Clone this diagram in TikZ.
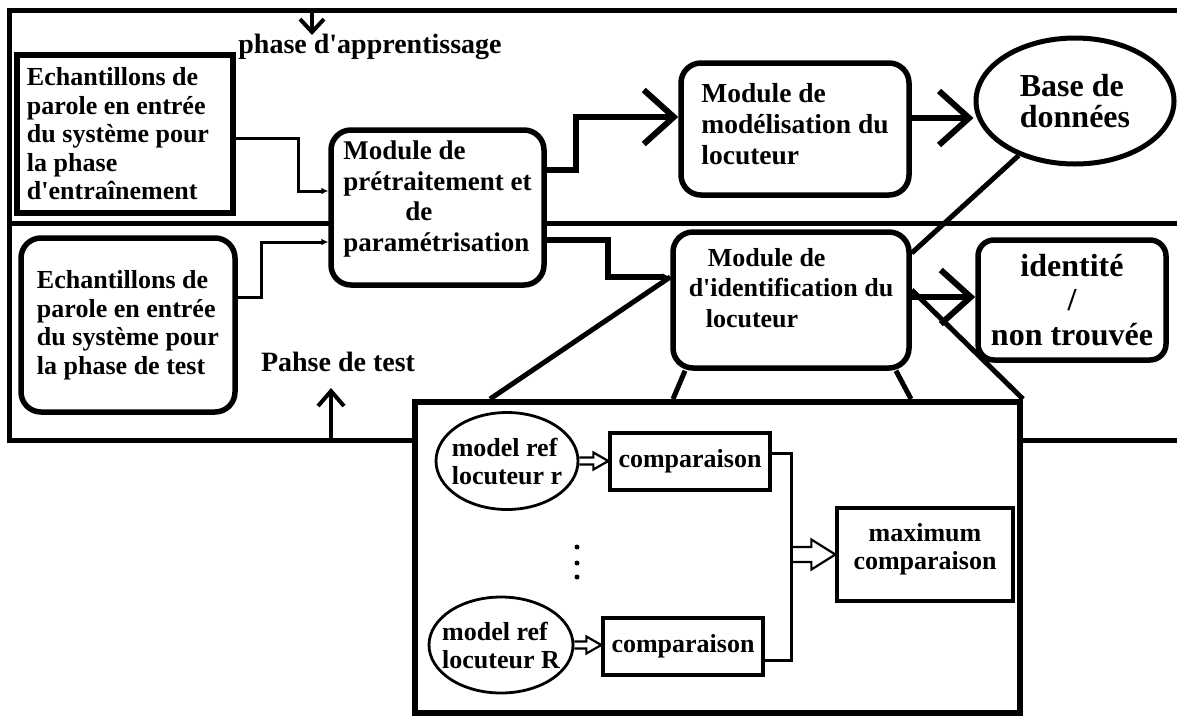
\documentclass[tikz,border=0pt]{standalone}
\usepackage{fontspec}
\setmainfont{Liberation Serif}[Ligatures=TeXOff]
\usetikzlibrary{arrows.meta,calc,shapes.geometric}
\newcommand\ftA{\fontsize{26pt}{28.5pt}\selectfont\bfseries}
\newcommand\ftB{\fontsize{27pt}{30.7pt}\selectfont\bfseries}
\newcommand\ftC{\fontsize{27.5pt}{31pt}\selectfont\bfseries}
\newcommand\ftD{\fontsize{32pt}{31pt}\selectfont\bfseries}
\newcommand\ftE{\fontsize{26pt}{30.5pt}\selectfont\bfseries}
\newcommand\ftF{\fontsize{32pt}{34.5pt}\selectfont\bfseries}
\newcommand\ftG{\fontsize{26pt}{28pt}\selectfont\bfseries}
\newcommand\ftH{\fontsize{28pt}{30pt}\selectfont\bfseries}
\newcommand\hollowarr[5]{\draw[line width=2.2pt, line join=miter] let \p1=(#1), \p2=(#2) in (\x1,\y1+#3) -- (\x2-#5,\y1+#3) -- (\x2-#5,\y1+#4) -- (\x2,\y1) -- (\x2-#5,\y1-#4) -- (\x2-#5,\y1-#3) -- (\x1,\y1-#3);}
\tikzset{
  frameline/.style={line width=5pt},
  sqbox/.style={draw, line width=6.5pt, fill=white, inner sep=0pt},
  rbox/.style={draw, line width=5.5pt, rounded corners=20pt, fill=white, inner sep=0pt},
  dbell/.style={draw, ellipse, line width=5pt, fill=white, inner sep=0pt},
  inell/.style={draw, ellipse, line width=2.8pt, fill=white, inner xsep=-8pt, inner ysep=-10pt},
  inbox/.style={draw, line width=3.3pt, fill=white, inner sep=0pt},
  thinconn/.style={line width=3pt, -{Latex[length=7pt,width=7pt]}},
  thickconn/.style={line width=6pt},
  chev/.style={-{Straight Barb[length=30pt,width=54pt]}},
  plain/.style={line width=5pt},
  lab/.style={inner sep=0pt, font=\ftH}
}
\begin{document}
\begin{tikzpicture}[x=1pt,y=-1pt]
\useasboundingbox (0,0) rectangle (1177,718);
% outer frame
\draw[frameline] (1190,10) -- (9,10) -- (9,440) -- (1190,440);
\draw[frameline] (9,223) -- (1190,223);
% main nodes
\node[sqbox, minimum width=216pt, minimum height=158pt, align=left, font=\ftA] (train) at (125,134)
  {\makebox[196pt][l]{Echantillons de}\\parole en entrée\\du système pour\\la phase\\d'entraînement};
\node[rbox, minimum width=214pt, minimum height=174pt, align=left, font=\ftA] (test) at (128,325)
  {Echantillons de\\parole en entrée\\du système pour\\la phase de test};
\node[rbox, minimum width=213pt, minimum height=155pt, align=left, font=\ftB] (prep) at (437.5,207.5)
  {Module de\\prétraitement et\\\hspace*{62pt}de\\paramétrisation\\[-8pt]\mbox{}};
\node[rbox, minimum width=228pt, minimum height=132pt, align=left, font=\ftC] (model) at (795,129)
  {Module de\\modélisation du\\locuteur\\[-20pt]\mbox{}};
\node[dbell, minimum width=198pt, minimum height=126pt, align=left, font=\ftD] (base) at (1075,101)
  {Base de\\données};
\node[rbox, minimum width=236pt, minimum height=136pt, align=left, font=\ftE] (ident) at (791,300)
  {\hspace*{19pt}Module de\\d'identification du\\\hspace*{17pt}locuteur\\[-6pt]\mbox{}};
\node[rbox, rounded corners=16pt, minimum width=188pt, minimum height=120pt, align=center, font=\ftF] (result) at (1072,300)
  {identité\\/\hspace*{50pt}\\non trouvée};
\node[lab] (apprlab) at (370,47) {phase d'apprentissage};
\node[lab] (testlab) at (338,362) {Pahse de test};
% zoomed detail box
\node[sqbox, line width=6pt, minimum width=605pt, minimum height=311pt] (zoombox) at (717.5,557.5) {};
\node[inell, minimum width=142pt, minimum height=97pt, align=left, font=\ftG] (refr) at (507,461) {model ref\\locuteur r};
\node[inell, minimum width=144pt, minimum height=96pt, align=left, font=\ftG] (refR) at (501,645) {model ref\\locuteur R};
\node[inbox, minimum width=160pt, minimum height=57pt, font=\ftG] (compr) at (690,461.5) {comparaison};
\node[inbox, minimum width=160pt, minimum height=57pt, font=\ftG] (compR) at (683,646.5) {comparaison};
\node[inbox, minimum width=176pt, minimum height=93pt, align=center, font=\ftG] (maxb) at (925,554.5) {maximum\\comparaison\\[-11pt]\mbox{}};
% connectors
\draw[thinconn] ([yshift=-4pt]train.east) -- ++(62,0) |- ([yshift=16.5pt]prep.west);
\draw[thinconn] ([yshift=28pt]test.east) -- ++(24,0) |- ([yshift=-34.5pt]prep.west);
\draw[thickconn, chev] ([yshift=37.5pt]prep.east) -- ++(29,0) |- ([yshift=12pt]model.west);
\draw[thickconn, -{Latex[length=8pt,width=8pt]}] ([yshift=-32.5pt]prep.east) -- ++(61,0) |- ([yshift=23pt]ident.west);
\draw[thickconn, chev] ([yshift=11pt]model.east) -- ([yshift=11pt]model.east -| base.west);
\draw[thickconn, chev] ([yshift=3pt]ident.east) -- ([yshift=3pt]ident.east -| result.west);
\draw[plain] (base.224) -- ([yshift=47pt]ident.east);
\draw[plain] ([yshift=23pt]ident.west) -- ([xshift=-227.5pt]zoombox.north);
\draw[plain] ([xshift=-106pt]ident.south) -- ([xshift=-44.5pt]zoombox.north);
\draw[plain] ([xshift=105pt]ident.south) -- ([xshift=193.5pt]zoombox.north);
\draw[plain] ([yshift=10pt]ident.east) -- (zoombox.north east);
\coordinate (topin) at (312,10);
\coordinate (botin) at (331,440);
\draw[line width=4pt, -{Straight Barb[length=13pt,width=24pt]}] (topin) -- ++(0,25);
\draw[line width=4pt, -{Straight Barb[length=15pt,width=26pt]}] (botin) -- ++(0,-52);
% inside detail box
\draw[line width=3pt] ([yshift=8.5pt]compr.east) -- ++(20,0) |- ([yshift=-13.5pt]compR.east);
\coordinate (junc) at ([xshift=20pt]compr.east |- maxb.west);
\hollowarr{refr.east}{compr.west}{3.5pt}{8.5pt}{15pt}
\hollowarr{refR.east}{compR.west}{3.5pt}{8.5pt}{15pt}
\hollowarr{junc}{maxb.west}{7.5pt}{15pt}{24pt}
\fill (577,547) circle[radius=2.5pt] (577,563) circle[radius=2.5pt] (577,577) circle[radius=2.5pt];
\end{tikzpicture}
\end{document}
